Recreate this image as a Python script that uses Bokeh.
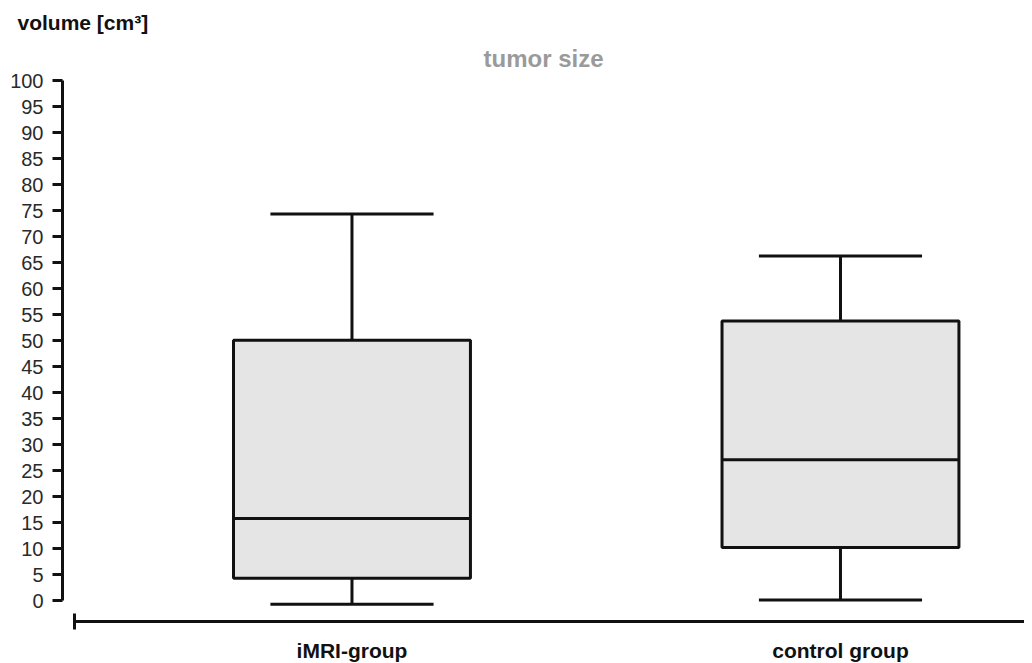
from bokeh.plotting import figure
from bokeh.models import FixedTicker, Title
from bokeh.embed import file_html
from bokeh.resources import INLINE

# ---- data ----
groups = ["iMRI-group", "control group"]
positions = [1, 2]
lower = [-0.7, 0.1]
q1 = [4.3, 10.2]
median = [15.8, 27.1]
q3 = [50.1, 53.8]
upper = [74.4, 66.3]
y_ticks = list(range(0, 101, 5))

chart_title = "tumor size"
y_title = "volume [cm³]"

# ---- style ----
FONT = "Liberation Sans"
INK = "#111111"
box_w = 0.485
cap_w = 0.334
axis_start = 0.432

p = figure(frame_width=962, frame_height=550,
           min_border_left=62, min_border_right=0,
           min_border_top=40, min_border_bottom=0,
           x_range=(0.4074, 2.3767), y_range=(-4.04, 101.8),
           output_backend="svg", toolbar_location=None)
p.outline_line_color = None
p.grid.visible = False
p.background_fill_color = "white"

# boxes
p.vbar(x=positions, width=box_w, bottom=q1, top=q3,
       fill_color="#e5e5e5", line_color=INK, line_width=3)
# medians
p.segment(x0=[x - box_w / 2 for x in positions], x1=[x + box_w / 2 for x in positions],
          y0=median, y1=median, line_color=INK, line_width=3)
# whiskers
p.segment(x0=positions, x1=positions, y0=q3, y1=upper, line_color=INK, line_width=3)
p.segment(x0=positions, x1=positions, y0=q1, y1=lower, line_color=INK, line_width=3)
# caps
p.segment(x0=[x - cap_w / 2 for x in positions], x1=[x + cap_w / 2 for x in positions],
          y0=upper, y1=upper, line_color=INK, line_width=3)
p.segment(x0=[x - cap_w / 2 for x in positions], x1=[x + cap_w / 2 for x in positions],
          y0=lower, y1=lower, line_color=INK, line_width=3)

# y axis
ya = p.yaxis[0]
ya.ticker = FixedTicker(ticks=y_ticks, minor_ticks=[])
ya.bounds = (0, 100)
ya.axis_line_width = 3
ya.axis_line_color = INK
ya.major_tick_out = 10
ya.major_tick_in = 0
ya.major_tick_line_width = 3
ya.major_tick_line_color = INK
ya.minor_tick_line_color = None
ya.major_label_standoff = 9
ya.major_label_text_font = FONT
ya.major_label_text_font_size = "20px"
ya.major_label_text_color = "#2a2a2a"

# x axis
xa = p.xaxis[0]
xa.ticker = FixedTicker(ticks=positions, minor_ticks=[axis_start])
xa.major_label_overrides = {float(x): g for x, g in zip(positions, groups)}
xa.bounds = (axis_start, 2.3767)
xa.axis_line_width = 3
xa.axis_line_color = INK
xa.major_tick_out = 0
xa.major_tick_in = 0
xa.minor_tick_in = 8
xa.minor_tick_out = 8
xa.minor_tick_line_width = 3
xa.minor_tick_line_color = INK
xa.major_label_standoff = 9
xa.major_label_text_font = FONT
xa.major_label_text_font_style = "bold"
xa.major_label_text_font_size = "21px"
xa.major_label_text_color = INK

# titles: p.title is outermost, later-added titles sit closer to the frame
p.title.text = y_title
p.title.align = "left"
p.title.offset = -45
p.title.standoff = 17
p.title.text_font = FONT
p.title.text_font_style = "bold"
p.title.text_font_size = "21px"
p.title.text_color = INK

t2 = Title(text=chart_title, align="center", offset=9, text_font=FONT,
           text_font_style="bold", text_font_size="24px", text_color="#9a9a9a",
           standoff=0)
p.add_layout(t2, "above")

open("out.html", "w").write(file_html(p, INLINE))
